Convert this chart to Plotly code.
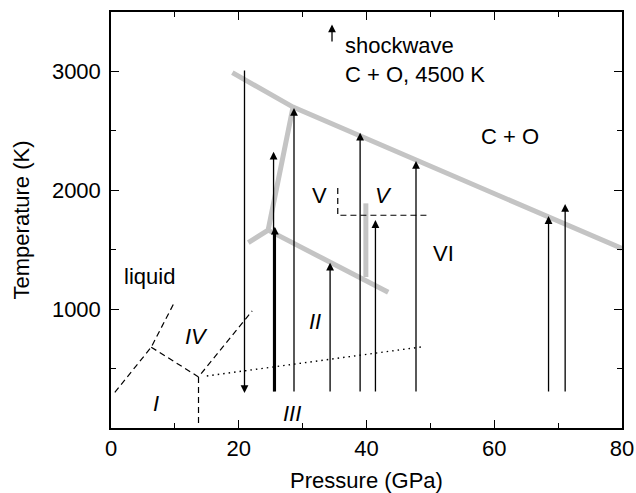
# Phase diagram (pressure vs temperature) with shockwave paths
import plotly.graph_objects as go

FONT = "Liberation Sans, Arial, Helvetica, sans-serif"
GRAY = "#c4c4c4"

# Gray phase boundaries (GPa, K)
melt_p = [19.0, 28.5, 80.0]
melt_t = [2990, 2700, 1510]
branch_p = [21.5, 24.6, 28.5]
branch_t = [1560, 1665, 2700]
lower_p = [24.6, 43.4]
lower_t = [1665, 1142]
vert_p = [39.9, 39.9]
vert_t = [1890, 1270]

# Dashed boundaries
v_dash_p = [35.5, 35.5, 49.5]
v_dash_t = [2020, 1790, 1790]
low_dash_a_p = [0.6, 6.3, 10.0]
low_dash_a_t = [300, 680, 1065]
low_dash_b_p = [6.3, 13.7, 22.1]
low_dash_b_t = [680, 430, 985]
low_dash_c_p = [13.7, 13.7]
low_dash_c_t = [430, 40]

# Dotted line
dot_p = [15.0, 49.0]
dot_t = [438, 685]

# Shockwave arrows (pressure, start T, end T)
arrow_p = [25.45, 28.65, 34.3, 39.0, 41.4, 47.75, 68.5, 71.1, 20.9]
arrow_t0 = [295, 295, 295, 295, 295, 295, 295, 295, 3020]
arrow_t1 = [2325, 2692, 1390, 2485, 1749, 2246, 1783, 1884, 295]
thick_p = 25.65
thick_t0 = 295
thick_t1 = 1693

# Region labels (text, P, T, italic)
labels = [
    ("liquid", 6.1, 1278, False),
    ("IV", 13.4, 767, True),
    ("I", 7.05, 208, True),
    ("III", 28.4, 121, True),
    ("II", 31.9, 893, True),
    ("VI", 52.0, 1469, False),
    ("V", 32.6, 1960, False),
    ("V", 42.6, 1960, True),
    ("C + O", 62.5, 2451, False),
]

fig = go.Figure()

for px, ty in [(melt_p, melt_t), (branch_p, branch_t), (lower_p, lower_t), (vert_p, vert_t)]:
    fig.add_trace(go.Scatter(x=px, y=ty, mode="lines",
                             line=dict(color=GRAY, width=5), hoverinfo="skip"))

for px, ty in [(v_dash_p, v_dash_t), (low_dash_a_p, low_dash_a_t),
               (low_dash_b_p, low_dash_b_t), (low_dash_c_p, low_dash_c_t)]:
    fig.add_trace(go.Scatter(x=px, y=ty, mode="lines",
                             line=dict(color="black", width=1.2, dash="6px,4px"),
                             hoverinfo="skip"))

fig.add_trace(go.Scatter(x=dot_p, y=dot_t, mode="lines",
                         line=dict(color="black", width=1.4, dash="1.5px,4px"),
                         hoverinfo="skip"))

annotations = []
for p, t0, t1 in zip(arrow_p, arrow_t0, arrow_t1):
    annotations.append(dict(
        x=p, y=t1, ax=p, ay=t0, xref="x", yref="y", axref="x", ayref="y",
        text="", showarrow=True, arrowhead=2, arrowsize=1.2, arrowwidth=1.3,
        arrowcolor="black",
    ))
annotations.append(dict(
    x=thick_p, y=thick_t1, ax=thick_p, ay=thick_t0, xref="x", yref="y",
    axref="x", ayref="y", text="", showarrow=True, arrowhead=2,
    arrowsize=0.65, arrowwidth=2.4, arrowcolor="black",
))

# Legend arrow and text
annotations.append(dict(
    x=34.6, y=3395, ax=34.6, ay=3240, xref="x", yref="y", axref="x", ayref="y",
    text="", showarrow=True, arrowhead=2, arrowsize=1.2, arrowwidth=1.3,
    arrowcolor="black",
))
annotations.append(dict(x=36.3, y=3217, xref="x", yref="y", text="shockwave",
                        showarrow=False, xanchor="left",
                        font=dict(family=FONT, size=22, color="black")))
annotations.append(dict(x=36.3, y=2970, xref="x", yref="y", text="C + O, 4500 K",
                        showarrow=False, xanchor="left",
                        font=dict(family=FONT, size=22, color="black")))

for text, p, t, italic in labels:
    annotations.append(dict(
        x=p, y=t, xref="x", yref="y",
        text=f"<i>{text}</i>" if italic else text,
        showarrow=False, font=dict(family=FONT, size=22, color="black"),
    ))

axis_common = dict(
    showgrid=False, zeroline=False, showline=True, linecolor="black",
    linewidth=1.5, mirror="allticks", ticks="inside", ticklen=8,
    tickwidth=1.3, tickcolor="black", automargin=False,
    tickfont=dict(family=FONT, size=22, color="black"),
)

fig.update_layout(
    width=636, height=493,
    margin=dict(l=111, r=14, t=12, b=65),
    paper_bgcolor="white", plot_bgcolor="white",
    showlegend=False,
    annotations=annotations,
    xaxis=dict(range=[0, 80], tickvals=[0, 20, 40, 60, 80],
               minor=dict(tickvals=[10, 30, 50, 70], ticks="inside", ticklen=5,
                          tickwidth=1.3, tickcolor="black"),
               title=dict(text="Pressure (GPa)", standoff=13,
                          font=dict(family=FONT, size=22, color="black")),
               **axis_common),
    yaxis=dict(range=[0, 3500], tickvals=[1000, 2000, 3000],
               minor=dict(tickvals=[500, 1500, 2500, 3500], ticks="inside",
                          ticklen=5, tickwidth=1.3, tickcolor="black"),
               ticklabelstandoff=4,
               title=dict(text="Temperature (K)", standoff=16,
                          font=dict(family=FONT, size=22, color="black")),
               **axis_common),
)

# drop the default page margin so the figure fills the window without scrollbars
fig.write_html(
    "out.html",
    config={"displayModeBar": False},
    post_script="document.body.style.margin='0';document.body.style.overflow='hidden';",
)
